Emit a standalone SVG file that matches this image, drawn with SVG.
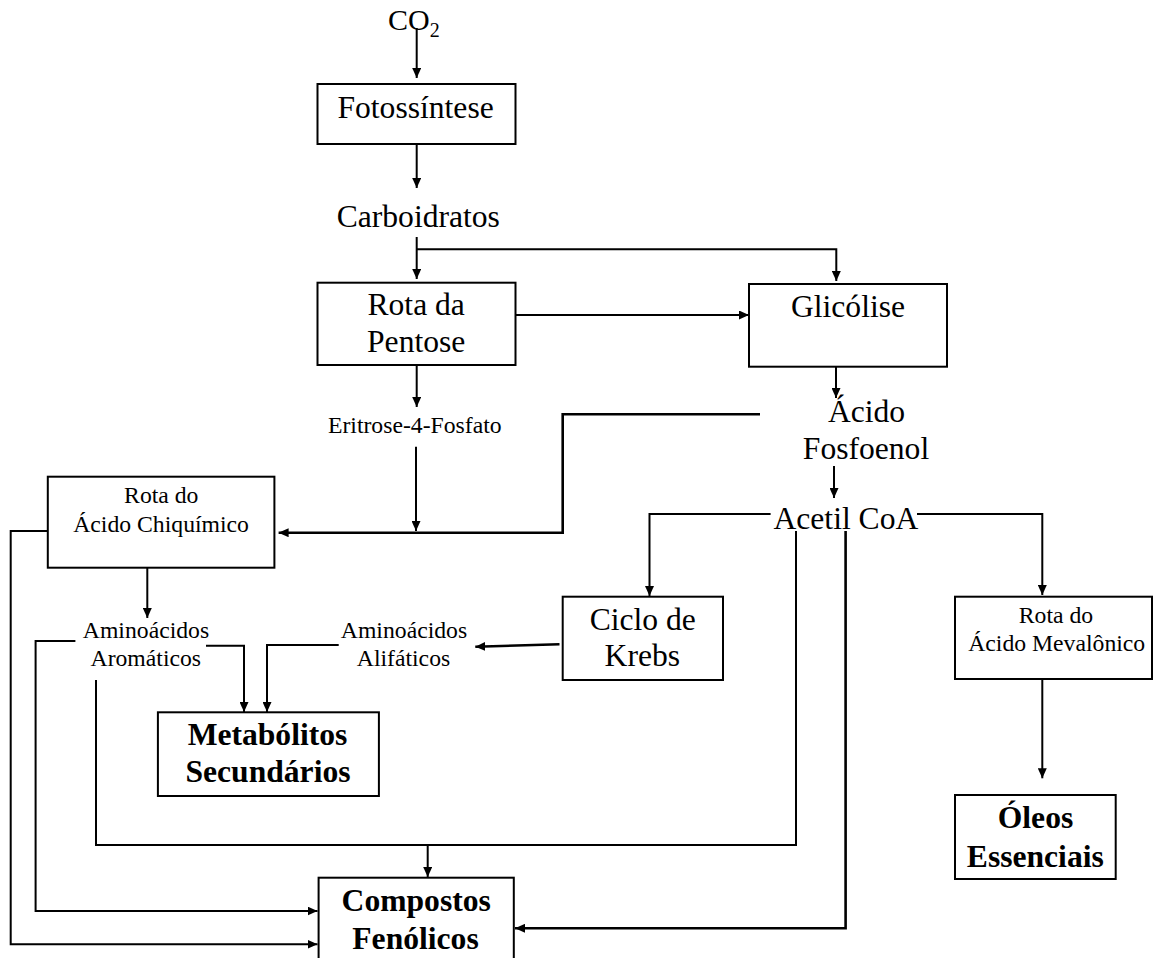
<svg xmlns="http://www.w3.org/2000/svg" width="1153" height="958" viewBox="0 0 1153 958">
<style>
text{font-family:"Liberation Serif","Times New Roman",serif;fill:#000;text-anchor:middle}
.b{font-size:31.6px}
.s{font-size:23.7px}
.bb{font-size:31.6px;font-weight:bold}
.box{fill:#fff;stroke:#000;stroke-width:2}
.c{fill:none;stroke:#000;stroke-width:2}
.a{marker-end:url(#ah)}
.t{stroke-width:2.6}
</style>
<defs>
<marker id="ah" markerUnits="userSpaceOnUse" markerWidth="10" markerHeight="9" refX="10" refY="4.5" orient="auto" viewBox="0 0 10 9">
<path d="M0,0 L10,4.5 L0,9 z" fill="#000"/>
</marker>
</defs>
<rect width="1153" height="958" fill="#fff"/>

<g id="connectors">
<path class="c a" d="M416.7,28 V78"/>
<path class="c a" d="M416.7,144 V188"/>
<path class="c a" d="M416.7,237 V279"/>
<path class="c a" d="M416.7,249.3 H836.3 V281"/>
<path class="c a" d="M515,315 H749"/>
<path class="c a" d="M416.7,365 V407"/>
<path class="c a" d="M836,366.7 V398"/>
<path class="c a" d="M834,466 V498"/>
<path class="c a" d="M416,446.7 V531"/>
<path class="c a t" d="M760,414.3 H562.7 V532.7 H278.6"/>
<path class="c a" d="M770.6,514 H649.5 V596"/>
<path class="c a" d="M917,514 H1042.3 V595"/>
<path class="c" d="M96,680 V845 H796 V531"/>
<path class="c a" d="M427.7,845 V877"/>
<path class="c a t" d="M845.6,531 V928.3 H515"/>
<path class="c a" d="M147.3,567.7 V618"/>
<path class="c a" d="M47.8,531 H10.7 V944.3 H317.5"/>
<path class="c a" d="M75.4,641 H35.6 V911 H317.5"/>
<path class="c a" d="M206,645.7 H244 V712"/>
<path class="c a" d="M338.7,645 H267 V712"/>
<path class="c a t" d="M559.5,644.3 L475.3,646.7"/>
<path class="c a" d="M1042.3,679 V778.3"/>
</g>

<g id="co2">
<text style="font-size:30px;text-anchor:start" x="388" y="30">CO<tspan style="font-size:20px" dy="7">2</tspan></text>
</g>

<g id="fotossintese">
<rect class="box" x="317.5" y="84" width="198" height="60"/>
<text class="b" x="415.6" y="118.3">Fotossíntese</text>
</g>

<g id="carboidratos">
<text class="b" x="418.3" y="226.7">Carboidratos</text>
</g>

<g id="rota-pentose">
<rect class="box" x="317.5" y="282.7" width="198" height="82.3"/>
<text class="b" x="416.2" y="315">Rota da</text>
<text class="b" x="416.2" y="351.7">Pentose</text>
</g>

<g id="glicolise">
<rect class="box" x="749" y="284" width="198" height="82.7"/>
<text class="b" x="848" y="316.7">Glicólise</text>
</g>

<g id="eritrose">
<text class="s" x="414.8" y="432.7">Eritrose-4-Fosfato</text>
</g>

<g id="acido-fosfoenol">
<text class="b" x="866.5" y="422.3">Ácido</text>
<text class="b" x="866" y="459.3">Fosfoenol</text>
</g>

<g id="acetil-coa">
<text class="b" x="845.9" y="529.3">Acetil CoA</text>
</g>

<g id="rota-chiquimico">
<rect class="box" x="47.8" y="476.7" width="226.6" height="91"/>
<text class="s" x="161.3" y="503.3">Rota do</text>
<text class="s" x="161.1" y="531.7">Ácido Chiquímico</text>
</g>

<g id="aminoacidos-aromaticos">
<text class="s" x="146" y="637.7">Aminoácidos</text>
<text class="s" x="145.8" y="666">Aromáticos</text>
</g>

<g id="aminoacidos-alifaticos">
<text class="s" x="404" y="637.7">Aminoácidos</text>
<text class="s" x="403.5" y="666">Alifáticos</text>
</g>

<g id="ciclo-krebs">
<rect class="box" x="562.7" y="596.7" width="160.3" height="83.3"/>
<text class="b" x="642.8" y="630">Ciclo de</text>
<text class="b" x="642.3" y="666">Krebs</text>
</g>

<g id="rota-mevalonico">
<rect class="box" x="955" y="596.7" width="197" height="82.3"/>
<text class="s" x="1056" y="623.3">Rota do</text>
<text class="s" x="1056.7" y="650.7">Ácido Mevalônico</text>
</g>

<g id="metabolitos">
<rect class="box" x="157.9" y="712.3" width="221" height="83.7"/>
<text class="bb" x="267.5" y="745">Metabólitos</text>
<text class="bb" x="268" y="781.7">Secundários</text>
</g>

<g id="oleos">
<rect class="box" x="955" y="795" width="160.7" height="84"/>
<text class="bb" x="1035.5" y="828.3">Óleos</text>
<text class="bb" x="1035.3" y="866.7">Essenciais</text>
</g>

<g id="compostos">
<rect class="box" x="318.6" y="877.7" width="195.2" height="84"/>
<text class="bb" x="416.2" y="911">Compostos</text>
<text class="bb" x="415.5" y="949.3">Fenólicos</text>
</g>
</svg>
